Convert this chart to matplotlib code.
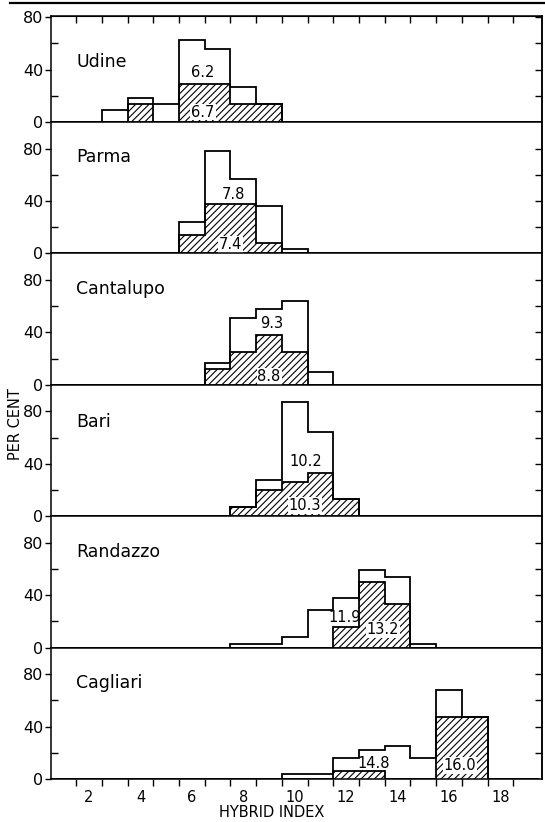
import numpy as np
import matplotlib
matplotlib.use("Agg")
import matplotlib.pyplot as plt
from matplotlib.lines import Line2D

plt.rcParams['font.family'] = ['DejaVu Sans']
plt.rcParams['hatch.linewidth'] = 0.8

# hybrid index bins 1..19
hybrid_index = list(range(1, 20))
sites = ["Udine", "Parma", "Cantalupo", "Bari", "Randazzo", "Cagliari"]

#                1  2  3   4   5   6   7   8   9  10  11  12  13  14  15  16  17 18 19
udine_hatch =   [0, 0, 0, 14,  0, 29, 29, 14, 14,  0,  0,  0,  0,  0,  0,  0,  0, 0, 0]
udine_open =    [0, 0, 9,  4, 14, 34, 27, 13,  0,  0,  0,  0,  0,  0,  0,  0,  0, 0, 0]
parma_hatch =   [0, 0, 0,  0,  0, 14, 38, 38,  8,  0,  0,  0,  0,  0,  0,  0,  0, 0, 0]
parma_open =    [0, 0, 0,  0,  0, 10, 40, 19, 28,  3,  0,  0,  0,  0,  0,  0,  0, 0, 0]
cant_hatch =    [0, 0, 0,  0,  0,  0, 12, 25, 38, 25,  0,  0,  0,  0,  0,  0,  0, 0, 0]
cant_open =     [0, 0, 0,  0,  0,  0,  5, 26, 20, 39, 10,  0,  0,  0,  0,  0,  0, 0, 0]
bari_hatch =    [0, 0, 0,  0,  0,  0,  0,  7, 20, 26, 33, 13,  0,  0,  0,  0,  0, 0, 0]
bari_open =     [0, 0, 0,  0,  0,  0,  0,  0,  8, 61, 31,  0,  0,  0,  0,  0,  0, 0, 0]
rand_hatch =    [0, 0, 0,  0,  0,  0,  0,  0,  0,  0,  0, 16, 50, 33,  0,  0,  0, 0, 0]
rand_open =     [0, 0, 0,  0,  0,  0,  0,  3,  3,  8, 29, 22,  9, 21,  3,  0,  0, 0, 0]
cagl_hatch =    [0, 0, 0,  0,  0,  0,  0,  0,  0,  0,  0,  6,  6,  0,  0, 47, 47, 0, 0]
cagl_open =     [0, 0, 0,  0,  0,  0,  0,  0,  0,  4,  4, 10, 16, 25, 16, 21,  0, 0, 0]

hatched = [udine_hatch, parma_hatch, cant_hatch, bari_hatch, rand_hatch, cagl_hatch]
opened = [udine_open, parma_open, cant_open, bari_open, rand_open, cagl_open]

open_means = ["6.2", "7.8", "9.3", "10.2", "11.9", "14.8"]
hatch_means = ["6.7", "7.4", "8.8", "10.3", "13.2", "16.0"]
open_mean_pos = [(6.43, 38), (7.6, 45), (9.1, 47), (10.43, 41.5), (11.94, 23), (13.07, 11.6)]
hatch_mean_pos = [(6.43, 7.6), (7.5, 7), (9.0, 6.4), (10.4, 7.9), (13.43, 14), (16.43, 10.3)]
name_y = [45.7, 73.6, 72.9, 71.6, 72.7, 73.5]

W, H = 545, 822
fig = plt.figure(figsize=(W / 100, H / 100), dpi=100)

left_px, right_px = 50.5, 541.5
zero_px = [122 + 131.4 * k for k in range(6)]
top_px = [16] + zero_px[:-1]
ytops = [81, 100.3, 100.3, 100.3, 100.3, 100.3]

edges = np.arange(0.5, 20.5, 1.0)
lw = 1.3
axes = []
for i in range(6):
    rect = [left_px / W, 1 - zero_px[i] / H, (right_px - left_px) / W, (zero_px[i] - top_px[i]) / H]
    ax = fig.add_axes(rect)
    axes.append(ax)
    h = np.array(hatched[i], dtype=float)
    o = np.array(opened[i], dtype=float)
    tot = h + o
    ax.stairs(h, edges, fill=True, hatch='/////', facecolor='white', edgecolor='black', linewidth=lw, zorder=2)
    ax.stairs(tot, edges, color='black', linewidth=lw, zorder=3)
    ax.set_xlim(0.5, 19.6)
    ax.set_ylim(0, ytops[i])
    for s in ax.spines.values():
        s.set_linewidth(1.1)
    # x ticks
    ax.set_xticks(np.arange(1.5, 19, 1.0))
    ax.tick_params(axis='x', which='major', direction='out', length=5, width=1, labelbottom=False, top=False)
    if i == 0:
        sx = ax.secondary_xaxis('top')
        sx.set_xticks(np.arange(1.5, 19, 1.0))
        sx.tick_params(direction='in', length=5, width=1, labeltop=False)
    if i == 5:
        ax.set_xticks(np.arange(2, 19, 2), minor=True)
        ax.set_xticklabels([str(v) for v in range(2, 19, 2)], minor=True)
        ax.tick_params(axis='x', which='minor', length=0, pad=8, labelsize=10.5, labelbottom=True)
        ax.set_xlabel("HYBRID INDEX", fontsize=10.5)
        ax.xaxis.set_label_coords((272 - left_px) / (right_px - left_px), -0.2)
    # y ticks
    ax.set_yticks([0, 40, 80])
    ax.set_yticklabels(["0", "40", "80"])
    ax.set_yticks([20, 60], minor=True)
    ax.tick_params(axis='y', which='major', direction='out', length=4, width=1, pad=1, labelsize=11.5, right=False)
    ax.tick_params(axis='y', which='minor', direction='in', length=5, width=1, right=False)
    sy = ax.secondary_yaxis('right')
    sy.set_yticks([20, 40, 60, 80])
    sy.tick_params(direction='in', length=5, width=1, labelright=False)
    sy.spines['right'].set_linewidth(1.1)
    # texts
    ax.text(1.5, name_y[i], sites[i], fontsize=12.5, ha='left', va='center')
    box = dict(facecolor='white', edgecolor='none', pad=0.6)
    ax.text(*open_mean_pos[i], open_means[i], fontsize=10.5, ha='center', va='center', zorder=4)
    ax.text(*hatch_mean_pos[i], hatch_means[i], fontsize=10.5, ha='center', va='center', bbox=box, zorder=4)

fig.text(15 / W, 1 - 424 / H, "PER CENT", rotation=90, fontsize=10.5, ha='center', va='center')
fig.add_artist(Line2D([10 / W, 1.0], [1 - 3 / H, 1 - 3 / H], color='black', linewidth=1.6))

fig.savefig("out.png", dpi=100)
